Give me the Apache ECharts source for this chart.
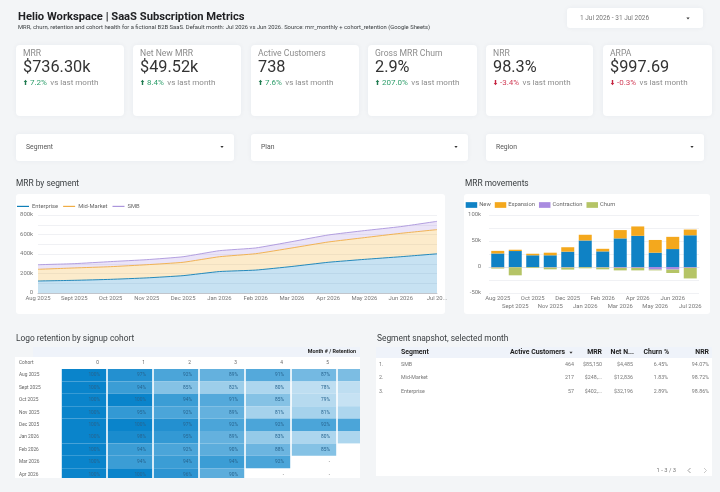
<!DOCTYPE html>
<html>
<head>
<meta charset="utf-8">
<title>Helio Workspace | SaaS Subscription Metrics</title>
<script src="https://cdn.jsdelivr.net/npm/echarts@6/dist/echarts.min.js"></script>
<style>
	html, body { margin: 0; padding: 0; background: #f3f5f7; }
	#main { width: 720px; height: 492px; }
</style>
</head>
<body>
<div id="main"></div>
<script>
var FONT = 'Roboto, sans-serif';

// kpi row
var kpiLabels = ['MRR', 'Net New MRR', 'Active Customers', 'Gross MRR Churn', 'NRR', 'ARPA'];
var kpiValues = ['$736.30k', '$49.52k', '738', '2.9%', '98.3%', '$997.69'];
var kpiDeltas = [7.2, 8.4, 7.6, 207.0, -3.4, -0.3];

var filterLabels = ['Segment', 'Plan', 'Region'];

// MRR by segment
var months = ['Aug 2025', 'Sept 2025', 'Oct 2025', 'Nov 2025', 'Dec 2025', 'Jan 2026', 'Feb 2026', 'Mar 2026', 'Apr 2026', 'May 2026', 'Jun 2026', 'Jul 2026'];
var enterprise = [123, 130, 140, 155, 178, 220, 235, 272, 315, 345, 372, 402];
var midMarket = [120, 127, 130, 135, 137, 152, 168, 190, 208, 223, 240, 248];
var smb = [47, 44, 52, 52, 57, 62, 59, 65, 72, 72, 69, 85];

// MRR movements
var newMrr = [26, 30.7, 22.5, 22.5, 29.5, 51, 30, 55, 60, 27.5, 34.5, 61];
var expansion = [5, 2.5, 3, 5, 8.5, 11, 5, 16, 18, 24.5, 23.5, 11];
var contraction = [-1, -0.5, -0.5, -1, -1, -0.5, -1, -1.5, -1.5, -5, -5, -1.5];
var churn = [-2, -15.5, -1.5, -3.5, -4, -2, -3.5, -5, -5, -1.5, -6.5, -20.5];

// cohort retention, null = "-" and undefined = nothing drawn
var cohorts = ['Aug 2025', 'Sept 2025', 'Oct 2025', 'Nov 2025', 'Dec 2025', 'Jan 2026', 'Feb 2026', 'Mar 2026', 'Apr 2026'];
var cohortMonths = ['0', '1', '2', '3', '4', '5', '6'];
var retention = [
	[100, 97, 92, 89, 91, 87, 86],
	[100, 94, 85, 82, 80, 78, 78],
	[100, 100, 94, 91, 85, 79, 77],
	[100, 95, 92, 89, 81, 81, 80],
	[100, 100, 97, 92, 92, 92, 92],
	[100, 98, 95, 89, 83, 80, 80],
	[100, 94, 92, 90, 88, 85],
	[100, 94, 94, 94, 92, null],
	[100, 100, 96, 90, null, null]
];

// segment table
var tableHeaders = ['Segment', 'Active Customers', 'MRR', 'Net N...', 'Churn %', 'NRR'];
var tableSegments = ['SMB', 'Mid-Market', 'Enterprise'];
var tableCustomers = ['464', '217', '57'];
var tableMrr = ['$85,150', '$248,...', '$402,...'];
var tableNet = ['$4,485', '$12,836', '$32,196'];
var tableChurn = ['6.45%', '1.83%', '2.89%'];
var tableNrr = ['94.07%', '98.72%', '98.86%'];

var shapes = [];

function box(x, y, w, h, r, fill, shadow) {
	var s = { fill: fill };
	if (shadow) {
		s.shadowBlur = 5;
		s.shadowColor = 'rgba(40,60,90,0.05)';
	}
	shapes.push({ type: 'rect', silent: true, shape: { x: x, y: y, width: w, height: h, r: r }, style: s });
}
function txt(x, y, text, size, color, align, weight) {
	shapes.push({
		type: 'text', silent: true,
		style: {
			x: x, y: y, text: text, fill: color, align: align || 'left', verticalAlign: 'middle',
			font: (weight || 'normal') + ' ' + size + 'px ' + FONT
		}
	});
}
function caret(x, y) {
	shapes.push({
		type: 'polygon', silent: true,
		shape: { points: [[x - 1.6, y - 1], [x + 1.6, y - 1], [x, y + 1]] },
		style: { fill: '#333' }
	});
}
function arrow(x, y, up, color) {
	var d = up ? 1 : -1;
	shapes.push({
		type: 'polygon', silent: true,
		shape: { points: [[x, y - 2.8 * d], [x + 1.8, y - 0.6 * d], [x + 0.7, y - 0.6 * d], [x + 0.7, y + 2.6 * d], [x - 0.7, y + 2.6 * d], [x - 0.7, y - 0.6 * d], [x - 1.8, y - 0.6 * d]] },
		style: { fill: color }
	});
}

// header
txt(18, 17.5, 'Helio Workspace | SaaS Subscription Metrics', 11.2, '#202124', 'left', 'bold');
txt(18, 28, 'MRR, churn, retention and cohort health for a fictional B2B SaaS. Default month: Jul 2026 vs Jun 2026. Source: mrr_monthly + cohort_retention (Google Sheets)', 5.85, '#3c4043');
box(567, 8, 136, 20, 3, '#fff', true);
txt(580, 18.5, '1 Jul 2026 - 31 Jul 2026', 6.5, '#777');
caret(688, 18.5);

// kpi cards
var kpiX = [16, 133, 251, 368, 486, 603];
var kpiW = [108, 108, 108, 109, 107, 109];
for (var i = 0; i < kpiLabels.length; i++) {
	var kx = kpiX[i] + 7;
	var good = kpiDeltas[i] > 0;
	var dc = good ? '#2e9e6b' : '#d2405a';
	box(kpiX[i], 45, kpiW[i], 71, 4, '#fff', true);
	txt(kx, 53.5, kpiLabels[i], 8.6, '#8c8c8c');
	txt(kx, 67.8, kpiValues[i], 16.3, '#333');
	arrow(kx + 2.5, 82.5, good, good ? '#1f7a4f' : '#c5223f');
	shapes.push({
		type: 'text', silent: true,
		style: {
			x: kx + 7, y: 82.5, verticalAlign: 'middle',
			text: '{d|' + kpiDeltas[i].toFixed(1) + '%} {n|vs last month}',
			rich: {
				d: { fill: dc, font: '8px ' + FONT },
				n: { fill: '#8c8c8c', font: '8px ' + FONT }
			}
		}
	});
}

// filters
var filterX = [16, 251, 486];
var filterW = [218, 217, 218];
for (var i = 0; i < filterLabels.length; i++) {
	box(filterX[i], 134, filterW[i], 27, 3, '#fff', true);
	txt(filterX[i] + 10, 147, filterLabels[i], 6.8, '#555');
	caret(filterX[i] + filterW[i] - 12, 147);
}

// chart cards
txt(16, 184, 'MRR by segment', 8.4, '#3c4043');
box(16, 194, 429, 120, 3, '#fff', false);
txt(465, 184, 'MRR movements', 8.4, '#3c4043');
box(464, 194, 246, 120, 3, '#fff', false);

// cohort table frame
txt(16, 338.5, 'Logo retention by signup cohort', 8.4, '#3c4043');
box(33, 347, 327, 10, 0, '#eff3fa', false);
box(15, 357, 345, 121, 0, '#fff', false);
txt(356, 351.5, 'Month # / Retention', 5.4, '#222', 'right', 'bold');
txt(19, 363, 'Cohort', 4.8, '#666');
for (var i = 0; i < 6; i++) {
	txt(99 + i * 46, 363, cohortMonths[i], 4.8, '#666', 'right');
}

// segment table
txt(377, 338.5, 'Segment snapshot, selected month', 8.4, '#3c4043');
box(376, 347, 336, 11, 0, '#eff3fa', false);
box(376, 358, 336, 118, 0, '#fff', false);
var headX = [401, 565, 602, 634, 669, 709];
for (var i = 0; i < tableHeaders.length; i++) {
	txt(headX[i], 352.7, tableHeaders[i], 6.9, '#222', i ? 'right' : 'left', 'bold');
}
caret(571, 352.7);
var rowY = [365, 378, 391.5];
for (var i = 0; i < tableSegments.length; i++) {
	txt(379, rowY[i], (i + 1) + '.', 5.3, '#777');
	txt(401, rowY[i], tableSegments[i], 5.3, '#777');
	txt(574, rowY[i], tableCustomers[i], 5.3, '#777', 'right');
	txt(602, rowY[i], tableMrr[i], 5.3, '#777', 'right');
	txt(633, rowY[i], tableNet[i], 5.3, '#777', 'right');
	txt(668, rowY[i], tableChurn[i], 5.3, '#777', 'right');
	txt(709, rowY[i], tableNrr[i], 5.3, '#777', 'right');
}
txt(676, 470.5, '1 - 3 / 3', 5.8, '#777', 'right');
shapes.push({ type: 'polyline', silent: true, shape: { points: [[690.5, 468], [688, 470.5], [690.5, 473]] }, style: { stroke: '#888', fill: null, lineWidth: 0.8 } });
shapes.push({ type: 'polyline', silent: true, shape: { points: [[704, 468], [706.5, 470.5], [704, 473]] }, style: { stroke: '#bbb', fill: null, lineWidth: 0.8 } });

// heatmap cells
var heatData = [];
for (var r = 0; r < retention.length; r++) {
	for (var c = 0; c < retention[r].length; c++) {
		heatData.push([c, r, retention[r][c] === null ? -1 : retention[r][c]]);
	}
}
var heatClip = { x: 61, y: 369, width: 299, height: 109 };

function renderHeat(params, api) {
	var v = api.value(2);
	var p = api.coord([api.value(0), api.value(1)]);
	var size = api.size([1, 1]);
	var right = p[0] + size[0] / 2;
	var kids = [];
	var label = v < 0 ? '-' : v + '%';
	if (v >= 0) {
		var rect = echarts.graphic.clipRectByRect(
			{ x: p[0] - size[0] / 2 + 0.8, y: p[1] - size[1] / 2, width: size[0] - 1.6, height: size[1] },
			heatClip
		);
		var t = (v - 70) / 30;
		kids.push({ type: 'rect', shape: rect, style: { fill: echarts.color.lerp(t, ['#ffffff', '#0a84cb']) } });
	}
	if (right - 7 < heatClip.x + heatClip.width) {
		kids.push({
			type: 'text',
			style: {
				x: right - 7, y: p[1], text: label, align: 'right', verticalAlign: 'middle',
				fill: v < 0 ? '#888' : '#27648f', font: '4.8px ' + FONT
			}
		});
	}
	return { type: 'group', children: kids };
}

function thousands(step) {
	return function (v) {
		if (v === 0) return '0';
		return v % step === 0 ? v + 'k' : '';
	};
}
var axisText = { color: '#777', fontSize: 5.9, fontFamily: FONT };

function areaSeries(name, data, line, fill) {
	return {
		name: name, type: 'line', stack: 'mrr', xAxisIndex: 0, yAxisIndex: 0,
		data: data, symbol: 'none', smooth: 0.15, color: line,
		lineStyle: { color: line, width: 0.9 },
		areaStyle: { color: fill, opacity: 0.23 }
	};
}
function barSeries(name, data, color) {
	return {
		name: name, type: 'bar', stack: 'moves', xAxisIndex: 1, yAxisIndex: 1,
		data: data, barWidth: 13, color: color
	};
}

var option = {
	animation: false,
	backgroundColor: '#f3f5f7',
	textStyle: { fontFamily: FONT },
	graphic: { elements: shapes },
	legend: [{
		left: 17, top: 203.4, padding: 0, itemWidth: 12, itemHeight: 1.2, itemGap: 5, selectedMode: false, icon: 'rect',
		data: ['Enterprise', 'Mid-Market', 'SMB'],
		textStyle: { color: '#666', fontSize: 5.8, padding: [0, 0, 0, -2] }
	}, {
		left: 465.7, top: 202, padding: 0, itemWidth: 11.5, itemHeight: 5.7, itemGap: 4, selectedMode: false, icon: 'rect',
		data: ['New', 'Expansion', 'Contraction', 'Churn'],
		textStyle: { color: '#666', fontSize: 5.8, padding: [0, 0, 0, -3] }
	}],
	grid: [
		{ left: 38, top: 215, width: 399, height: 78 },
		{ left: 489, top: 215, width: 210, height: 78 },
		{ left: 61, top: 369, width: 322, height: 111.6 }
	],
	xAxis: [{
		gridIndex: 0, type: 'category', boundaryGap: false, data: months,
		axisTick: { show: false },
		axisLine: { lineStyle: { color: '#b5bac2', width: 0.8 } },
		axisLabel: Object.assign({}, axisText, {
			interval: 0, margin: 3, hideOverlap: false, showMaxLabel: true,
			formatter: function (v, i) { return i === 11 ? 'Jul 20...' : v; }
		})
	}, {
		gridIndex: 1, type: 'category', data: months,
		axisTick: { show: false },
		axisLine: { onZero: true, lineStyle: { color: '#d5e0ea', width: 0.8 } },
		axisLabel: Object.assign({}, axisText, {
			interval: 0, margin: 2, hideOverlap: false, lineHeight: 7.5, verticalAlign: 'top',
			formatter: function (v, i) { return i % 2 ? '\n' + v : v; }
		})
	}, {
		gridIndex: 2, type: 'category', data: cohortMonths, show: false
	}],
	yAxis: [{
		gridIndex: 0, type: 'value', min: 0, max: 800, interval: 100,
		axisLine: { show: false }, axisTick: { show: false },
		splitLine: { lineStyle: { color: '#eceef1', width: 0.8 } },
		axisLabel: Object.assign({}, axisText, { margin: 5, formatter: thousands(200) })
	}, {
		gridIndex: 1, type: 'value', min: -50, max: 100, interval: 25,
		axisLine: { show: false }, axisTick: { show: false },
		splitLine: { lineStyle: { color: '#eceef1', width: 0.8 } },
		axisLabel: Object.assign({}, axisText, { margin: 8, formatter: thousands(50) })
	}, {
		gridIndex: 2, type: 'category', inverse: true, data: cohorts,
		axisLine: { show: false }, axisTick: { show: false },
		axisLabel: { color: '#666', fontSize: 4.8, fontFamily: FONT, align: 'left', margin: 42, interval: 0 }
	}],
	series: [
		areaSeries('Enterprise', enterprise, '#0f7fb8', '#0f82c5'),
		areaSeries('Mid-Market', midMarket, '#f0ad45', '#f4a81d'),
		areaSeries('SMB', smb, '#ab96dc', '#a98be0'),
		barSeries('New', newMrr, '#0f82c5'),
		barSeries('Expansion', expansion, '#f4a81d'),
		barSeries('Contraction', contraction, '#a98be0'),
		barSeries('Churn', churn, '#b5c466'),
		{
			type: 'custom', xAxisIndex: 2, yAxisIndex: 2,
			data: heatData, renderItem: renderHeat, encode: { x: 0, y: 1 }
		}
	]
};

var chart = echarts.init(document.getElementById('main'));
chart.setOption(option);
</script>
</body>
</html>
